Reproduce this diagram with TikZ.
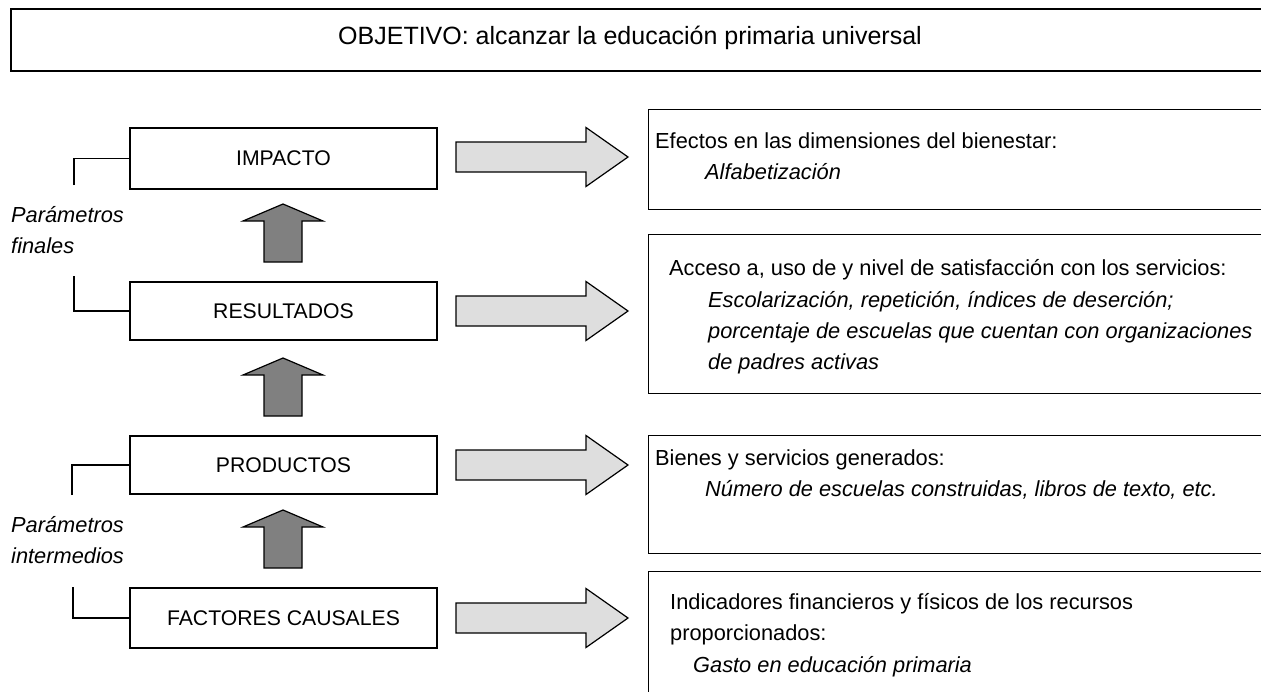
\documentclass[tikz,border=0pt]{standalone}
\usepackage{fontspec}
\setmainfont{Liberation Sans}
\begin{document}
\begin{tikzpicture}[x=1pt,y=-1pt,
  every node/.style={font=\fontsize{21.2}{31}\selectfont},
  lbox/.style={draw,line width=1.4pt,minimum width=307pt,inner sep=0pt},
  rbox/.style={draw,line width=1.4pt,anchor=north west,minimum width=640pt,inner sep=0pt},
  txt/.style={anchor=base west,inner sep=0pt,font=\fontsize{21.8}{31}\selectfont},
  itx/.style={anchor=base west,inner sep=0pt,font=\fontsize{21.8}{31}\selectfont\itshape},
  bracket/.style={line width=1.2pt},
  rarrow/.style={draw,line width=1.2pt,fill=black!13},
  uarrow/.style={draw,line width=1.2pt,fill=black!50}]
\clip (0,0) rectangle (1261,691);
\fill[white] (0,0) rectangle (1261,691);
% title
\node[draw,line width=1.8pt,anchor=north west,minimum width=1270pt,minimum height=62pt,inner sep=0pt] (top) at (10,8) {};
\node[anchor=base,inner sep=0pt,font=\fontsize{25}{31}\selectfont] (title) at (630,44) {OBJETIVO: alcanzar la educación primaria universal};
% left boxes
\node[lbox,minimum height=61pt] (imp) at (283.5,158.5) {IMPACTO};
\node[lbox,minimum height=58pt] (res) at (283.5,311) {RESULTADOS};
\node[lbox,minimum height=58pt] (pro) at (283.5,465) {PRODUCTOS};
\node[lbox,minimum height=60pt] (fac) at (283.5,618) {FACTORES CAUSALES};
% brackets
\coordinate (b1) at (74,185);
\coordinate (b2) at (74,276);
\coordinate (b3) at (72,495);
\coordinate (b4) at (73,587);
\draw[bracket] (b1) |- (imp.west);
\draw[bracket] (b2) |- (res.west);
\draw[bracket] (b3) |- (pro.west);
\draw[bracket] (b4) |- (fac.west);
\node[itx] (pf1) at (11,222) {Parámetros};
\node[itx] (pf2) at (11,253) {finales};
\node[itx] (pi1) at (11,532) {Parámetros};
\node[itx] (pi2) at (11,563) {intermedios};
% up arrows
\foreach \t in {204,358,510}{
  \draw[uarrow] (264,\t+58) -- (264,\t+17) -- (243,\t+17) -- (283,\t) -- (323,\t+17) -- (302,\t+17) -- (302,\t+58) -- cycle;
}
% right arrows
\foreach \c in {157,311,465,618}{
  \draw[rarrow] (456,\c-15) -- (586,\c-15) -- (586,\c-29.5) -- (628,\c) -- (586,\c+29.5) -- (586,\c+15) -- (456,\c+15) -- cycle;
}
% right boxes
\node[rbox,minimum height=100pt] (r1) at (648,109) {};
\node[rbox,minimum height=159pt] (r2) at (648,234) {};
\node[rbox,minimum height=118pt] (r3) at (648,435) {};
\node[rbox,minimum height=140pt] (r4) at (648,571) {};
\node[txt] (r1a) at (655,148) {Efectos en las dimensiones del bienestar:};
\node[itx] (r1b) at (705,179) {Alfabetización};
\node[txt] (r2a) at (669,275) {Acceso a, uso de y nivel de satisfacción con los servicios:};
\node[itx] (r2b) at (708,307) {Escolarización, repetición, índices de deserción;};
\node[itx] (r2c) at (708,338) {porcentaje de escuelas que cuentan con organizaciones};
\node[itx] (r2d) at (708,369) {de padres activas};
\node[txt] (r3a) at (655,465) {Bienes y servicios generados:};
\node[itx] (r3b) at (705,496) {Número de escuelas construidas, libros de texto, etc.};
\node[txt] (r4a) at (670,609) {Indicadores financieros y físicos de los recursos};
\node[txt] (r4b) at (670,640) {proporcionados:};
\node[itx] (r4c) at (693,672) {Gasto en educación primaria};
\end{tikzpicture}
\end{document}
